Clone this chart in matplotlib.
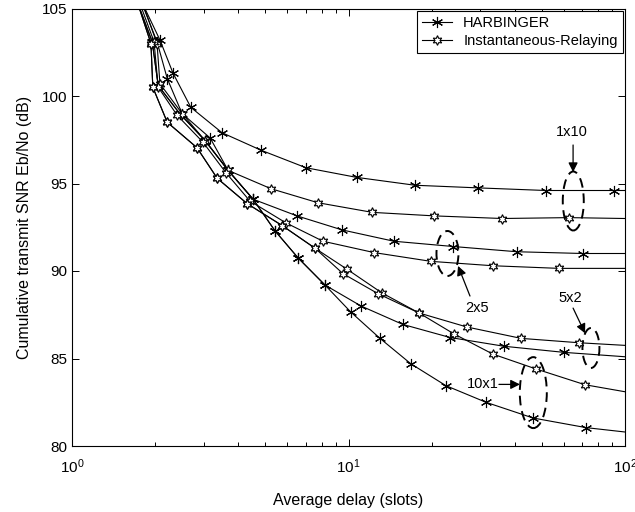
import matplotlib
matplotlib.use("Agg")
import matplotlib.pyplot as plt
from matplotlib.patches import Ellipse
from matplotlib.transforms import IdentityTransform
from matplotlib.lines import Line2D

plt.rcParams['font.family'] = ['Liberation Sans', 'DejaVu Sans']
plt.rcParams['mathtext.fontset'] = 'custom'
plt.rcParams['mathtext.rm'] = 'Liberation Sans'
plt.rcParams['mathtext.it'] = 'Liberation Sans'

# HARBINGER curves (first point sits above the top, last one at x = 100)
harb_1x10_x = [1.76, 2.08, 2.32, 2.69, 3.49, 4.83, 7.02, 10.7, 17.4, 29.4, 51.8, 91.3, 100]
harb_1x10_y = [105.6, 103.2, 101.3, 99.35, 97.9, 96.9, 95.9, 95.35, 94.9, 94.75, 94.6, 94.6, 94.6]

harb_2x5_x = [1.78, 2.03, 2.21, 2.50, 3.16, 3.67, 4.52, 6.51, 9.47, 14.6, 23.9, 40.7, 70.5, 100]
harb_2x5_y = [105.4, 103.1, 101.0, 99.0, 97.6, 95.75, 94.1, 93.15, 92.35, 91.7, 91.4, 91.1, 91.0, 91.0]

harb_5x2_x = [1.72, 1.95, 2.05, 2.45, 3.03, 3.67, 4.52, 5.42, 6.57, 8.22, 11.1, 15.7, 23.3, 36.5, 60.2, 100]
harb_5x2_y = [105.4, 103.1, 100.6, 99.0, 97.45, 95.75, 94.1, 92.3, 90.75, 89.2, 88.0, 86.95, 86.2, 85.7, 85.35, 85.1]

harb_10x1_x = [1.72, 1.95, 2.05, 2.45, 3.03, 3.67, 4.52, 5.42, 6.57, 8.22, 10.2, 13.0, 16.8, 22.5, 31.4, 46.5, 72.3, 100]
harb_10x1_y = [105.4, 103.1, 100.6, 99.0, 97.45, 95.75, 94.1, 92.3, 90.75, 89.2, 87.65, 86.15, 84.7, 83.45, 82.5, 81.6, 81.05, 80.8]

# Instantaneous-Relaying curves
ir_1x10_x = [1.79, 2.03, 2.08, 2.50, 3.03, 3.67, 5.25, 7.76, 12.2, 20.4, 35.9, 62.7, 100]
ir_1x10_y = [105.4, 103.0, 100.7, 99.0, 97.45, 95.75, 94.7, 93.9, 93.35, 93.15, 93.0, 93.05, 93.0]

ir_2x5_x = [1.75, 1.98, 2.05, 2.40, 2.98, 3.61, 4.40, 5.94, 8.09, 12.4, 19.9, 33.3, 57.7, 100]
ir_2x5_y = [105.4, 103.1, 100.5, 98.9, 97.35, 95.6, 94.0, 92.75, 91.7, 91.05, 90.55, 90.3, 90.15, 90.15]

ir_5x2_x = [1.72, 1.93, 1.96, 2.21, 2.83, 3.35, 4.30, 5.75, 7.57, 9.88, 13.2, 18.0, 26.8, 42.1, 68.2, 100]
ir_5x2_y = [105.4, 103.0, 100.5, 98.5, 97.05, 95.3, 93.85, 92.6, 91.3, 90.1, 88.75, 87.6, 86.8, 86.15, 85.9, 85.75]

ir_10x1_x = [1.72, 1.93, 1.96, 2.21, 2.83, 3.35, 4.30, 5.75, 7.57, 9.55, 12.8, 18.0, 24.1, 33.3, 47.7, 71.7, 100]
ir_10x1_y = [105.4, 103.0, 100.5, 98.5, 97.05, 95.3, 93.85, 92.6, 91.3, 89.85, 88.7, 87.6, 86.4, 85.25, 84.4, 83.5, 83.1]

# annotations: label, text pos, arrow tail, arrow head, ellipse centre, ellipse size (px)
ann_labels = ['1x10', '2x5', '5x2', '10x1']
ann_text = [(64.2, 97.95), (29.1, 87.9), (63.2, 88.47), (30.6, 83.52)]
ann_tail = [(64.9, 97.2), (27.5, 88.57), (64.9, 87.88), (35.0, 83.52)]
ann_head = [(64.9, 95.65), (24.9, 90.29), (71.7, 86.44), (41.7, 83.52)]
ell_center = [(65.0, 94.0), (22.8, 91.0), (75.3, 85.6), (46.6, 83.05)]
ell_size = [(21, 59), (22, 45), (17, 40), (27, 71)]

fig = plt.figure(figsize=(6.35, 5.12), dpi=100)
ax = fig.add_axes([72/635, 1 - 446/512, 553/635, 437.5/512])

harb = [(harb_1x10_x, harb_1x10_y), (harb_2x5_x, harb_2x5_y),
        (harb_5x2_x, harb_5x2_y), (harb_10x1_x, harb_10x1_y)]
ir = [(ir_1x10_x, ir_1x10_y), (ir_2x5_x, ir_2x5_y),
      (ir_5x2_x, ir_5x2_y), (ir_10x1_x, ir_10x1_y)]

star = (6, 2, 0)
hexa = (6, 1, 0)
for x, y in harb:
    ax.plot(x, y, color='k', lw=0.8, marker=star, ms=8, mew=0.8,
            markevery=slice(1, -1))
for x, y in ir:
    ax.plot(x, y, color='k', lw=0.8, marker=hexa, ms=7, mew=0.8,
            mfc='white', markevery=slice(1, -1))

ax.set_xscale('log')
ax.set_xlim(1, 100)
ax.set_ylim(80, 105)
ax.set_yticks([80, 85, 90, 95, 100, 105])
ax.tick_params(which='both', direction='in', top=True, right=True, labelsize=11)
ax.tick_params(axis='x', pad=8)
ax.tick_params(which='major', length=5, width=0.7)
ax.tick_params(which='minor', length=3, width=0.7)
for s in ax.spines.values():
    s.set_linewidth(0.8)

ax.set_xlabel('Average delay (slots)', fontsize=11.5)
ax.xaxis.set_label_coords(0.5, -0.108)
ax.set_ylabel('Cumulative transmit SNR Eb/No (dB)', fontsize=11.5, labelpad=7)

handles = [Line2D([], [], color='k', lw=0.8, marker=star, ms=8, mew=0.8),
           Line2D([], [], color='k', lw=0.8, marker=hexa, ms=7, mew=0.8, mfc='white')]
leg = ax.legend(handles, ['HARBINGER', 'Instantaneous-Relaying'], loc='upper right',
                fontsize=10.5, fancybox=False, framealpha=1, edgecolor='k',
                borderaxespad=0.15, handlelength=2.0, borderpad=0.35, labelspacing=0.3)
leg.get_frame().set_linewidth(0.8)

for lab, tp, tl, hd, ec, es in zip(ann_labels, ann_text, ann_tail, ann_head, ell_center, ell_size):
    ax.text(tp[0], tp[1], lab, fontsize=10.5, ha='center', va='center')
    ax.annotate('', xy=hd, xytext=tl,
                arrowprops=dict(arrowstyle='-|>', color='k', lw=0.9,
                                mutation_scale=14, shrinkA=0, shrinkB=0))
    c = ax.transData.transform(ec)
    ax.add_patch(Ellipse(c, es[0], es[1], transform=IdentityTransform(),
                         fill=False, ec='k', lw=1.4, ls=(0, (5, 3))))

fig.savefig('out.png', dpi=100)
